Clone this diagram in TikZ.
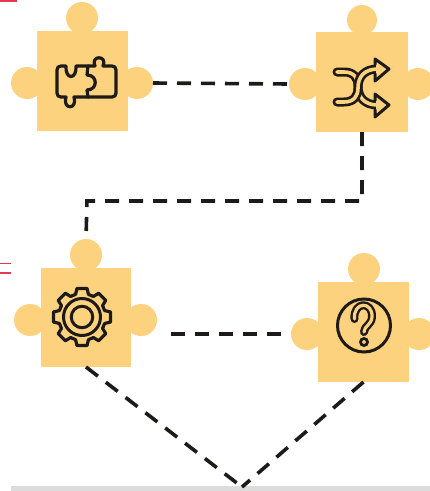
\documentclass[tikz,border=0pt]{standalone}
\usetikzlibrary{calc}
\definecolor{piece}{HTML}{FDD27F}
\definecolor{ink}{HTML}{1E1A17}
\definecolor{barc}{HTML}{DCDCDC}
\definecolor{redm}{HTML}{E8384F}
\tikzset{
 square/.style={fill=piece,draw=none,inner sep=0pt,outer sep=0pt,rectangle},
 knob/.style={fill=piece,draw=none,circle,inner sep=0pt,outer sep=0pt,minimum size=32pt},
 conn/.style={draw=ink,line width=3.6pt,dash pattern=on 14pt off 10pt},
 icon/.style={draw=ink,line width=3.2pt,line join=round,line cap=round},
 dbl/.style={draw=ink,line width=2.7pt,double=piece,double distance=3.6pt,line join=round,line cap=round},
 redmark/.style={fill=redm,draw=none}
}
\begin{document}
\begin{tikzpicture}[x=1pt,y=-1pt]
\useasboundingbox (0,0) rectangle (430,491);
\fill[white] (0,0) rectangle (430,491);
\begin{scope}
\clip (0,0) rectangle (430,491);
% red marks
\fill[redmark] (0,0) rectangle (17,1.8);
\fill[redmark] (0,262.5) rectangle (11,264.2);
\fill[redmark] (0,272) rectangle (11,273.7);
% bar
\node[fill=barc,inner sep=0pt,minimum width=419pt,minimum height=5pt] (bar) at (220.5,488.5) {};
% piece 1
\node[knob] (p1t) at (82,18) {};
\node[knob] (p1l) at (27,83) {};
\node[knob] (p1r) at (137,83) {};
\node[square,minimum width=91pt,minimum height=100pt] (p1) at (82.5,81) {};
% piece 2
\node[knob,minimum size=30pt] (p2t) at (362,20) {};
\node[knob] (p2l) at (305,84) {};
\node[knob] (p2r) at (418,84) {};
\node[square,minimum width=92pt,minimum height=100pt] (p2) at (362,82) {};
% piece 3
\node[knob] (p3t) at (86,255) {};
\node[knob] (p3l) at (30,320) {};
\node[knob] (p3r) at (141,320) {};
\node[square,minimum width=90pt,minimum height=99pt] (p3) at (86,317.5) {};
% piece 4
\node[knob] (p4t) at (364,269) {};
\node[knob] (p4l) at (307,334) {};
\node[knob] (p4r) at (419,334) {};
\node[square,minimum width=91pt,minimum height=100pt] (p4) at (363.5,332) {};
% connectors
\coordinate (c1) at (362,201);
\coordinate (c2) at (87,201);
\coordinate (apex) at (242,487);
\draw[conn] (p1r.east) -- (p2l.west);
\draw[conn] (p2.south) -- (c1) -- (c2) -- (p3t.north);
\draw[conn,shorten <=14pt,shorten >=8pt] (p3r.east |- p4l.west) -- (p4l.west);
\draw[conn,dash pattern=on 15pt off 10pt] (p3.south) -- (apex);
\draw[conn,dash pattern=on 15pt off 10pt] (p4.south) -- (apex);
% puzzle icon
\draw[icon] (76,66) .. controls (77,80) and (65,80) .. (66,66) -- (61,66)
  .. controls (58.5,66) and (57,67.5) .. (57,70) -- (57,93)
  .. controls (57,95.5) and (58.5,97) .. (61,97) -- (66,97)
  .. controls (62,110) and (78,110) .. (74,97) -- (88,97) -- (87,90)
  .. controls (98,90) and (98,75) .. (87,75) -- (88,66) -- cycle;
\draw[icon] (88,66) -- (95,66) .. controls (90,55) and (108,55) .. (103,66) -- (112,66)
  .. controls (114.5,66) and (116,67.5) .. (116,70) -- (116,93)
  .. controls (116,95.5) and (114.5,97) .. (112,97) -- (88,97);
% shuffle icon
\draw[dbl] (337,72) -- (344,72) .. controls (354,72) and (358,78) .. (358,86)
  .. controls (358,97) and (364,105) .. (378,105);
\draw[dbl] (337,102) -- (344,102) .. controls (354,102) and (358,96) .. (358,88)
  .. controls (358,77) and (364,69) .. (378,69);
\fill[piece] (376,60) -- (388,69) -- (376,80) -- cycle;
\fill[piece] (376,95) -- (388,105) -- (376,116) -- cycle;
\draw[icon,line width=3pt] (375,64.5) -- (375,59) -- (389,69) -- (375,81) -- (375,73.5);
\draw[icon,line width=3pt] (375,100.5) -- (375,94) -- (389,105) -- (375,117) -- (375,109.5);
% gear icon
\begin{scope}[shift={(82,317)}]
\draw[icon] (-16:23.5pt) \foreach \a in {0,45,...,315} {
   -- (\a-16:23.5pt) -- (\a-10:29pt) -- (\a+10:29pt) -- (\a+16:23.5pt) } -- cycle;
\node[draw=ink,line width=3pt,circle,inner sep=0pt,minimum size=37pt] (g1) at (0,0) {};
\node[draw=ink,line width=3pt,circle,inner sep=0pt,minimum size=21.5pt] (g2) at (0,0) {};
\end{scope}
% question icon
\node[draw=ink,line width=3pt,circle,inner sep=0pt,minimum size=53pt] (q) at (364,325.5) {};
\draw[dbl,line width=2.4pt,double distance=3.2pt] (354.5,319) .. controls (353,301) and (373,301) .. (372,317)
  .. controls (371.5,325) and (364,326) .. (364,332);
\node[draw=ink,line width=2.8pt,circle,inner sep=0pt,minimum size=7pt] (qd) at (364,342) {};
\end{scope}
\end{tikzpicture}
\end{document}
